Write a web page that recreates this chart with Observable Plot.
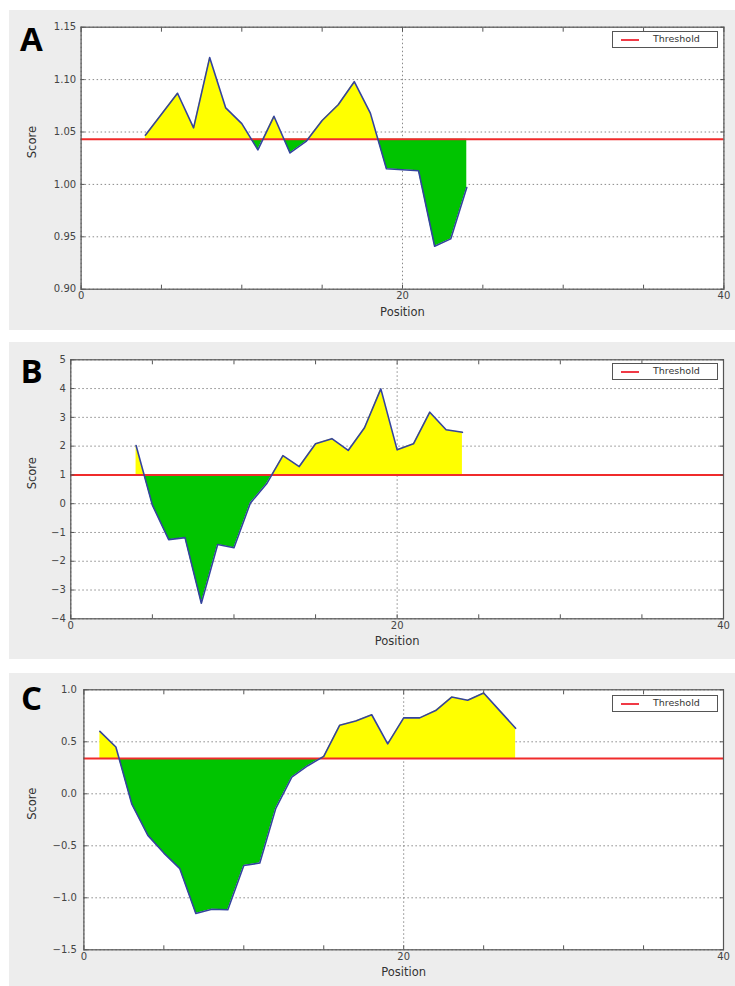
<!DOCTYPE html>
<html>
<head>
<meta charset="utf-8">
<script src="https://cdn.jsdelivr.net/npm/d3@7"></script>
<script src="https://cdn.jsdelivr.net/npm/@observablehq/plot@0.6"></script>
<style>
  html, body { margin: 0; padding: 0; background: #ffffff; }
  #root { position: relative; width: 735px; height: 986px; background: #ffffff; overflow: hidden; }
  .panel { position: absolute; background: #ededed; }
  .panel svg { position: absolute; left: 0; top: 0; }
  .legend { position: absolute; width: 104px; height: 15px; background: #fff; border: 1px solid #555;
            font-family: "DejaVu Sans", sans-serif; font-size: 9.5px; color: #333; }
  .legend .sw { position: absolute; left: 8px; top: 7px; width: 18px; height: 2px; background: #f03a46; }
  .legend .tx { position: absolute; left: 40px; top: 1px; }
</style>
</head>
<body>
<div id="root"></div>
<script>
// ---------- data ----------
const posA = [4,5,6,7,8,9,10,11,12,13,14,15,16,17,18,19,20,21,22,23,24];
const scoreA = [1.047,1.067,1.087,1.054,1.121,1.073,1.058,1.033,1.065,1.030,1.041,1.061,1.076,1.098,1.068,1.015,1.014,1.013,0.941,0.948,0.997];
const thresholdA = 1.043;
const yTicksA = [0.90,0.95,1.00,1.05,1.10,1.15];

const posB = [4,5,6,7,8,9,10,11,12,13,14,15,16,17,18,19,20,21,22,23,24];
const scoreB = [2.02,-0.05,-1.25,-1.18,-3.46,-1.42,-1.53,0.02,0.69,1.67,1.29,2.08,2.26,1.85,2.64,3.99,1.87,2.08,3.18,2.57,2.48];
const thresholdB = 1.0;
const yTicksB = [-4,-3,-2,-1,0,1,2,3,4,5];

const posC = [1,2,3,4,5,6,7,8,9,10,11,12,13,14,15,16,17,18,19,20,21,22,23,24,25,26,27];
const scoreC = [0.60,0.45,-0.10,-0.40,-0.57,-0.72,-1.15,-1.11,-1.115,-0.69,-0.665,-0.14,0.16,0.27,0.36,0.66,0.70,0.76,0.48,0.73,0.73,0.80,0.93,0.90,0.97,0.80,0.63];
const thresholdC = 0.34;
const yTicksC = [-1.5,-1.0,-0.5,0.0,0.5,1.0];

const xTicks = [0,20,40];
const xMinorTicks = [0,5,10,15,20,25,30,35,40];
const panelLetters = ["A","B","C"];
const xLabel = "Position";
const yLabel = "Score";
const legendLabel = "Threshold";

// ---------- helpers ----------
function splitAtThreshold(xs, ys, thr) {
  const pts = [];
  for (let i = 0; i < xs.length; i++) {
    pts.push({x: xs[i], y: ys[i]});
    if (i < xs.length - 1 && (ys[i] - thr) * (ys[i + 1] - thr) < 0) {
      const t = (thr - ys[i]) / (ys[i + 1] - ys[i]);
      pts.push({x: xs[i] + t * (xs[i + 1] - xs[i]), y: thr});
    }
  }
  return pts.map(p => ({x: p.x, hi: Math.max(p.y, thr), lo: Math.min(p.y, thr)}));
}

const root = document.getElementById("root");

function makePanel(cfg) {
  const div = document.createElement("div");
  div.className = "panel";
  div.style.left = cfg.left + "px";
  div.style.top = cfg.top + "px";
  div.style.width = cfg.width + "px";
  div.style.height = cfg.height + "px";
  root.appendChild(div);

  const line = cfg.xs.map((x, i) => ({x, y: cfg.ys[i]}));
  const filled = splitAtThreshold(cfg.xs, cfg.ys, cfg.thr);
  const m = cfg.margin;
  const gridStyle = {stroke: "#8a8a8a", strokeOpacity: 1, strokeWidth: 1, strokeDasharray: "1.5,2.5"};
  const tickStyle = {tickSize: 4, tickFormat: () => "", stroke: "#555", strokeOpacity: 1};

  const svg = Plot.plot({
    width: cfg.width,
    height: cfg.height,
    marginLeft: m[3], marginRight: m[1], marginTop: m[0], marginBottom: m[2],
    style: {background: "transparent", fontFamily: "DejaVu Sans, sans-serif", fontSize: "10px", color: "#444", overflow: "visible"},
    x: {domain: [0, 40], label: null},
    y: {domain: cfg.yDomain, label: null},
    marks: [
      Plot.frame({fill: "white", stroke: "none"}),
      Plot.gridY(cfg.yTicks, gridStyle),
      Plot.gridX(xTicks, gridStyle),
      Plot.areaY(filled, {x: "x", y1: cfg.thr, y2: "hi", fill: "#ffff00", curve: "linear"}),
      Plot.areaY(filled, {x: "x", y1: cfg.thr, y2: "lo", fill: "#00c400", curve: "linear"}),
      Plot.ruleY([cfg.thr], {stroke: "#f02b2b", strokeWidth: 2}),
      Plot.line(line, {x: "x", y: "y", stroke: "#34439e", strokeWidth: 1.6}),
      Plot.axisX({ticks: xMinorTicks, anchor: "bottom", dy: -4, ...tickStyle}),
      Plot.axisX({ticks: xMinorTicks, anchor: "top", dy: 4, ...tickStyle}),
      Plot.axisY({ticks: cfg.yTicks, anchor: "left", dx: 4, ...tickStyle}),
      Plot.axisY({ticks: cfg.yTicks, anchor: "right", dx: -4, ...tickStyle}),
      Plot.axisX({ticks: xTicks, anchor: "bottom", tickSize: 0, tickPadding: 3, fill: "#444", label: null}),
      Plot.axisY({ticks: cfg.yTicks, anchor: "left", tickSize: 0, tickPadding: cfg.yPad, tickFormat: cfg.fmt, fill: "#444", label: null}),
      Plot.frame({stroke: "#555", strokeWidth: 1.2}),
      Plot.text([xLabel], {frameAnchor: "bottom", lineAnchor: "middle", dy: 23, fontSize: 11.5, fill: "#333"}),
      Plot.text([yLabel], {frameAnchor: "left", dx: -(m[3] + cfg.left - 32), rotate: -90, fontSize: 11.5, fill: "#333"}),
      Plot.text([cfg.letter], {frameAnchor: "top-left", textAnchor: "middle", lineAnchor: "middle",
        dx: 31 - (m[3] + cfg.left), dy: cfg.letterY - (m[0] + cfg.top),
        fontSize: 33, fontWeight: "bold", fontFamily: "Open Sans, Liberation Sans, sans-serif", fill: "#000"})
    ]
  });
  div.appendChild(svg);

  const lg = document.createElement("div");
  lg.className = "legend";
  lg.style.left = (cfg.legend[0] - cfg.left) + "px";
  lg.style.top = (cfg.legend[1] - cfg.top) + "px";
  lg.innerHTML = '<div class="sw"></div><div class="tx"></div>';
  lg.querySelector(".tx").textContent = legendLabel;
  div.appendChild(lg);
}

makePanel({
  letter: panelLetters[0], xs: posA, ys: scoreA, thr: thresholdA, yDomain: [0.90, 1.15], yTicks: yTicksA,
  fmt: d3.format(".2f"), yPad: 5,
  left: 9, top: 10, width: 726, height: 320,
  margin: [16.7, 11.6, 41.3, 71.6], letterY: 40, legend: [612, 31]
});
makePanel({
  letter: panelLetters[1], xs: posB, ys: scoreB, thr: thresholdB, yDomain: [-4, 5], yTicks: yTicksB,
  fmt: d3.format("d"), yPad: 5,
  left: 9, top: 342, width: 726, height: 317,
  margin: [17.3, 12, 40.7, 61.3], letterY: 372, legend: [612, 363]
});
makePanel({
  letter: panelLetters[2], xs: posC, ys: scoreC, thr: thresholdC, yDomain: [-1.5, 1.0], yTicks: yTicksC,
  fmt: d3.format(".1f"), yPad: 7,
  left: 9, top: 673, width: 726, height: 313,
  margin: [16.3, 12, 36.7, 74.4], letterY: 699, legend: [612, 695]
});
</script>
</body>
</html>
